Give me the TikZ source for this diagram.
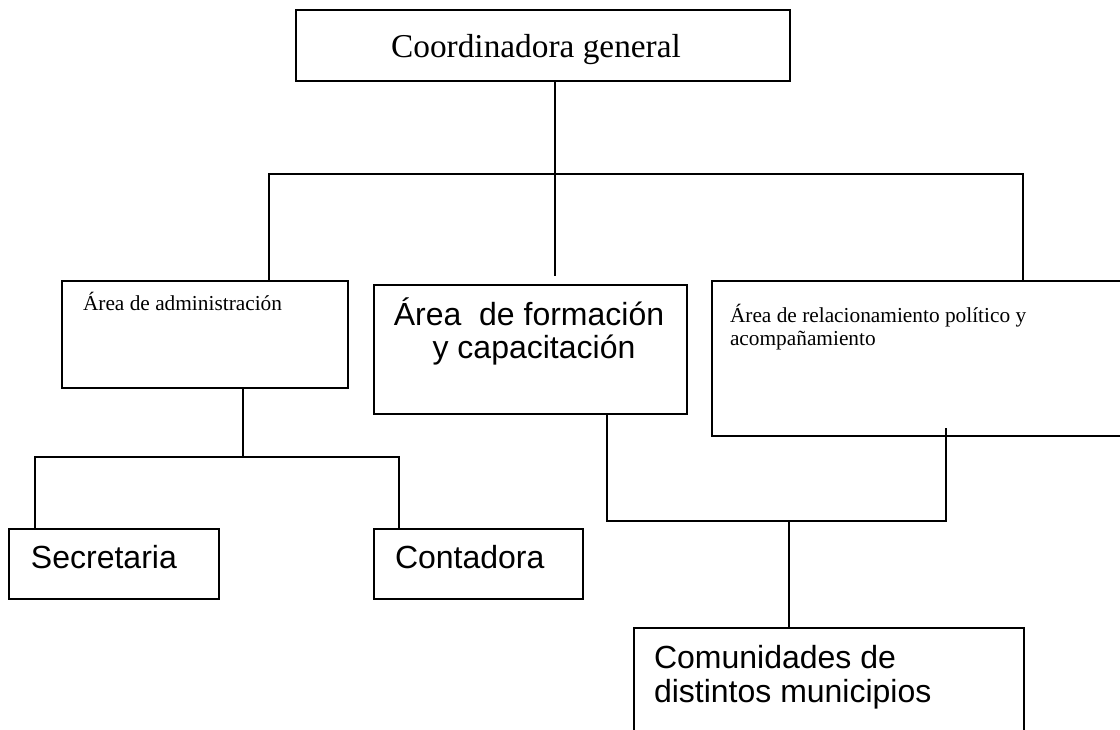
\documentclass[tikz,border=0pt]{standalone}
\usepackage{fontspec}
\setmainfont{Liberation Serif}
\newfontfamily\arialfont{Liberation Sans}
\begin{document}
\begin{tikzpicture}[x=0.75pt,y=-0.75pt,line width=1.5pt,
  box/.style={draw,line width=1.5pt,rectangle,inner sep=0pt,anchor=north west},
  serifsmall/.style={anchor=base west,inner sep=0pt,font=\fontsize{16}{18}\selectfont},
  seriflarge/.style={anchor=base,inner sep=0pt,font=\fontsize{25}{28}\selectfont},
  sanstext/.style={anchor=base west,inner sep=0pt,font=\arialfont\fontsize{24}{26}\selectfont},
  sanscenter/.style={anchor=base,inner sep=0pt,font=\arialfont\fontsize{24}{26}\selectfont}]
\useasboundingbox (0,0) rectangle (1120,730);
\clip (0,0) rectangle (1120,730);
% boxes
\node[box,minimum width=370.5pt,minimum height=53.25pt] (coord) at (295,9) {};
\node[box,minimum width=214.5pt,minimum height=80.25pt] (adm) at (61,280) {};
\node[box,minimum width=234.75pt,minimum height=96.75pt] (form) at (373,284) {};
\node[box,minimum width=315pt,minimum height=116.25pt] (relac) at (711,280) {};
\node[box,minimum width=157.5pt,minimum height=52.5pt] (secr) at (8,528) {};
\node[box,minimum width=156.75pt,minimum height=52.5pt] (cont) at (373,528) {};
\node[box,minimum width=292.5pt,minimum height=93.75pt] (comu) at (633,627) {};
% texts
\node[seriflarge] (tcoord) at (536,58) {Coordinadora general};
\node[serifsmall] (tadm) at (82,311) {Área de administración};
\node[sanscenter] (tform1) at (529,326) {Área~ de formación};
\node[sanscenter] (tform2) at (534,359) {y capacitación};
\node[serifsmall] (trel1) at (729,323) {Área de relacionamiento político y};
\node[serifsmall] (trel2) at (729,346) {acompañamiento};
\node[sanstext] (tsecr) at (30,568) {Secretaria};
\node[sanstext] (tcont) at (394,568) {Contadora};
\node[sanstext] (tcomu1) at (653,668) {Comunidades de};
\node[sanstext] (tcomu2) at (653,702) {distintos municipios};
% connector points
\coordinate (t) at (555,174);
\coordinate (tl) at (269,174);
\coordinate (tr) at (1023,174);
\coordinate (fe) at (555,276);
\coordinate (a1) at (243,457);
\coordinate (al) at (35,457);
\coordinate (ar) at (399,457);
\coordinate (b1) at (607,521);
\coordinate (b2) at (946,521);
\coordinate (b3) at (946,428);
\coordinate (b4) at (789,521);
% connectors
\draw (coord.south -| t) -- (t);
\draw (adm.north -| tl) -- (tl) -- (tr) -- (relac.north -| tr);
\draw (t) -- (fe);
\draw (adm.south -| a1) -- (a1);
\draw (secr.north -| al) -- (al) -- (ar) -- (cont.north -| ar);
\draw (form.south -| b1) -- (b1) -- (b2) -- (b3);
\draw (b4) -- (comu.north -| b4);
\end{tikzpicture}
\end{document}
